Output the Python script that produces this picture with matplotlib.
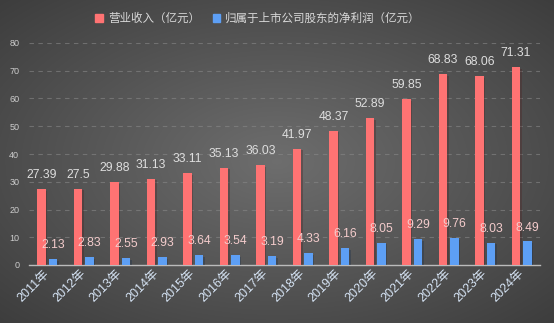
import matplotlib

matplotlib.use("Agg")
import matplotlib.pyplot as plt
import matplotlib.patheffects as pe
import numpy as np

YEARS = ["2011年", "2012年", "2013年", "2014年", "2015年", "2016年", "2017年",
         "2018年", "2019年", "2020年", "2021年", "2022年", "2023年", "2024年"]
REVENUE = [27.39, 27.5, 29.88, 31.13, 33.11, 35.13, 36.03,
           41.97, 48.37, 52.89, 59.85, 68.83, 68.06, 71.31]
NET_PROFIT = [2.13, 2.83, 2.55, 2.93, 3.64, 3.54, 3.19,
              4.33, 6.16, 8.05, 9.29, 9.76, 8.03, 8.49]
SERIES_NAMES = ["营业收入（亿元）", "归属于上市公司股东的净利润（亿元）"]

RED = "#ff7373"
BLUE = "#5d9ff5"
FONT = ["Liberation Sans", "Noto Sans CJK SC", "DejaVu Sans"]

plt.rcParams["font.family"] = FONT

fig = plt.figure(figsize=(5.54, 3.23), dpi=100)

# radial gradient background
bg = fig.add_axes([0, 0, 1, 1], zorder=-10)
yy, xx = np.mgrid[-1:1:323j, -1:1:554j]
r = np.sqrt(xx ** 2 + yy ** 2) / np.sqrt(2)
shade = 0.43 - 0.19 * r
bg.imshow(np.dstack([shade] * 3), aspect="auto", extent=[0, 1, 0, 1])
bg.axis("off")

ax = fig.add_axes([29 / 554, 1 - 265 / 323, 511 / 554, 222 / 323])
ax.set_facecolor("none")

x = np.arange(len(YEARS))
width = 0.235
off = 0.157
shadow = [pe.SimplePatchShadow(offset=(1.2, -1.2), alpha=0.35), pe.Normal()]
rb = ax.bar(x - off, REVENUE, width, color=RED, zorder=3, path_effects=shadow)
bb = ax.bar(x + off, NET_PROFIT, width, color=BLUE, zorder=3, path_effects=shadow)

for rect, v in zip(rb, REVENUE):
    ax.annotate(f"{v:g}", (rect.get_x() + rect.get_width() / 2, v),
                xytext=(0, 10), textcoords="offset points", ha="center",
                va="center", fontsize=8.7, color="#dedede", zorder=5)
for rect, v in zip(bb, NET_PROFIT):
    ax.annotate(f"{v:g}", (rect.get_x() + rect.get_width() / 2, v),
                xytext=(0, 10), textcoords="offset points", ha="center",
                va="center", fontsize=8.7, color="#f4cccc", zorder=5)

ax.set_xlim(-0.5, len(YEARS) - 0.5)
ax.set_ylim(0, 80)
ax.set_yticks(range(0, 81, 10))
ax.yaxis.grid(True, linestyle=(0, (4, 4)), color="#888888", linewidth=0.8, alpha=0.6)
ax.set_axisbelow(True)
for s in ["top", "right", "left"]:
    ax.spines[s].set_visible(False)
ax.spines["bottom"].set_color("#bbbbbb")
ax.spines["bottom"].set_linewidth(1)
ax.tick_params(axis="y", length=0, labelsize=6.5, labelcolor="#cccccc", pad=7)
ax.tick_params(axis="x", length=0, labelsize=9, labelcolor="#d6e4f5", pad=5)
ax.set_xticks(x)
ax.set_xticklabels(YEARS, rotation=45, ha="right", va="center",
                   rotation_mode="anchor")

handles = [plt.Rectangle((0, 0), 1, 1, color=RED),
           plt.Rectangle((0, 0), 1, 1, color=BLUE)]
fig.legend(handles, SERIES_NAMES, loc="center", bbox_to_anchor=(0.466, 1 - 19 / 323),
           ncol=2, frameon=False, fontsize=8.3, labelcolor="#d8d8d8",
           handlelength=0.65, handleheight=0.65, handletextpad=0.45,
           columnspacing=1.1)

fig.savefig("out.png", dpi=100)
